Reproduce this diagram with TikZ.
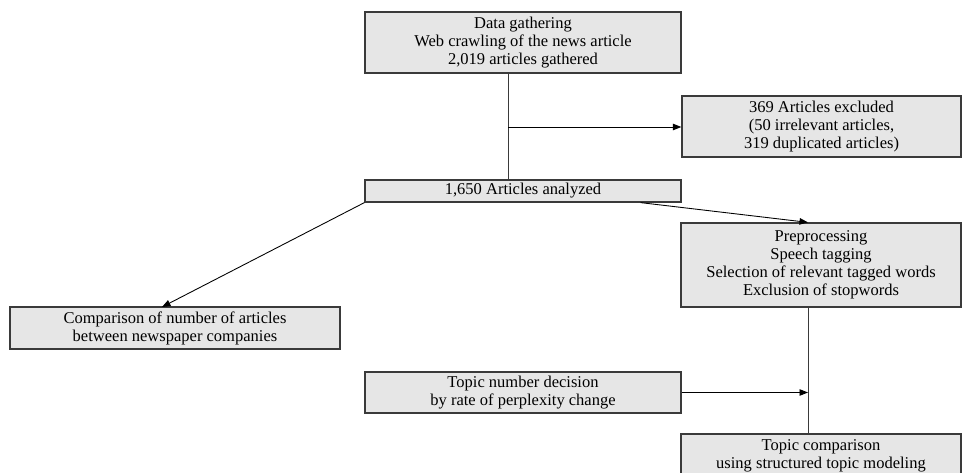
\documentclass[tikz,border=0pt]{standalone}
\usepackage{fontspec}
\setmainfont{Liberation Serif}
\usepackage{xcolor}
\usetikzlibrary{arrows.meta,positioning}
\definecolor{boxfill}{HTML}{E6E6E6}
\definecolor{edge}{HTML}{3A3A3A}

\begin{document}
\begin{tikzpicture}[x=0.02cm, y=-0.02cm,
    every node/.style={font=\fontsize{9.4}{10.3}\selectfont, text=black, align=center, inner sep=0pt},
    stage/.style={draw=edge, fill=boxfill, line width=0.7pt},
    arrow/.style={-{Triangle[length=1.7mm, width=1.3mm]}, color=black, line width=0.5pt},
    link/.style={color=edge, line width=0.5pt}
]
\clip (0,0) rectangle (963,473);
\useasboundingbox (0,0) rectangle (963,473);
\node[stage, minimum width=316*0.02cm, minimum height=61*0.02cm] (gather) at (523, 42.5) {Data gathering\\Web crawling of the news article\\2,019 articles gathered};
\node[stage, minimum width=316*0.02cm, minimum height=22*0.02cm] (analyzed) at (523, 191) {1,650 Articles analyzed};
\node[stage, minimum width=279*0.02cm, minimum height=61*0.02cm] (excluded) at (821.5, 126.5) {369 Articles excluded\\(50 irrelevant articles,\\319 duplicated articles)};
\node[stage, minimum width=280*0.02cm, minimum height=84*0.02cm] (prep) at (821, 265) {Preprocessing\\Speech tagging\\Selection of relevant tagged words\\Exclusion of stopwords};
\node[stage, minimum width=330*0.02cm, minimum height=42*0.02cm] (compare) at (175, 328) {Comparison of number of articles\\between newspaper companies};
\node[stage, minimum width=316*0.02cm, minimum height=41*0.02cm] (topicnum) at (523, 392.5) {Topic number decision\\by rate of perplexity change};
\node[stage, minimum width=280*0.02cm, minimum height=44*0.02cm] (topiccmp) at (821, 456) {Topic comparison\\using structured topic modeling};
% junction points
\coordinate (split) at (508, 127);
\coordinate (merge) at (808, 392);
\draw[link] (split |- gather.south) -- (split |- analyzed.north);
\draw[arrow] (split) -- (split -| excluded.west);
\draw[arrow] (analyzed.south west) -- (162, 307);
\draw[arrow] ([xshift=-41*0.02cm]analyzed.south east) -- (merge |- prep.north);
\draw[link] (merge |- prep.south) -- (merge |- topiccmp.north);
\draw[arrow] (topicnum.east) -- (topicnum.east -| merge);
\end{tikzpicture}
\end{document}
